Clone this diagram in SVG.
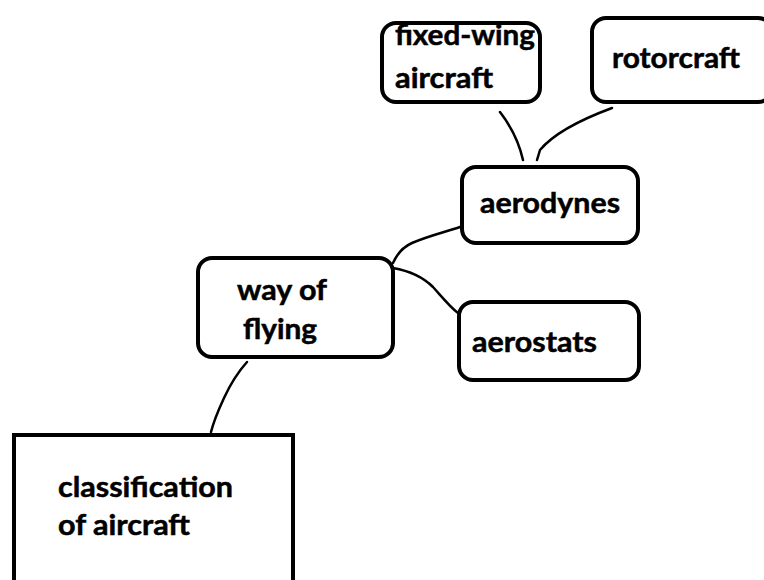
<svg xmlns="http://www.w3.org/2000/svg" width="764" height="580" viewBox="0 0 764 580">
<style>
.box{fill:#fff;stroke:#000;stroke-width:4}
.lnk{fill:none;stroke:#000;stroke-width:2.5;stroke-linecap:round;stroke-linejoin:round}
text{font-family:Lato,"Open Sans","Liberation Sans",sans-serif;font-weight:bold;font-size:28px;fill:#000;stroke:#000;stroke-width:0.5}
</style>
<rect width="764" height="580" fill="#fff"/>
<g id="connectors">
<path class="lnk" d="M500,112 C510,125 519,142 523,160"/>
<path class="lnk" d="M612,108 C585,118 555,132 540,150 L537,160"/>
<path class="lnk" d="M393,263 C397,254 403,247 412,243 C428,236 445,232 460,227"/>
<path class="lnk" d="M393,268 C410,271 423,277 433,287 C442,297 450,307 458,313"/>
<path class="lnk" d="M247,362 C238,372 230,385 224,398 C218,411 214,420 211,432"/>
</g>
<g id="classification">
<rect class="box" x="14" y="435" width="279" height="160"/>
<text x="58" y="497" textLength="175" lengthAdjust="spacingAndGlyphs">classification</text>
<text x="58" y="535" textLength="132" lengthAdjust="spacingAndGlyphs">of aircraft</text>
</g>
<g id="way-of-flying">
<rect class="box" x="198" y="258" width="195" height="99" rx="14"/>
<text x="237" y="300" textLength="90" lengthAdjust="spacingAndGlyphs">way of</text>
<text x="243" y="339" textLength="74" lengthAdjust="spacingAndGlyphs">flying</text>
</g>
<g id="aerodynes">
<rect class="box" x="462" y="167" width="176" height="76" rx="14"/>
<text x="480" y="213" textLength="140" lengthAdjust="spacingAndGlyphs">aerodynes</text>
</g>
<g id="aerostats">
<rect class="box" x="459" y="302" width="180" height="78" rx="14"/>
<text x="472" y="352" textLength="125" lengthAdjust="spacingAndGlyphs">aerostats</text>
</g>
<g id="fixed-wing">
<rect class="box" x="382" y="23" width="158" height="79" rx="14"/>
<text x="395" y="45" textLength="140" lengthAdjust="spacingAndGlyphs">fixed-wing</text>
<text x="395" y="88" textLength="98" lengthAdjust="spacingAndGlyphs">aircraft</text>
</g>
<g id="rotorcraft">
<rect class="box" x="592" y="18" width="180" height="84" rx="14"/>
<text x="612" y="68" textLength="128" lengthAdjust="spacingAndGlyphs">rotorcraft</text>
</g>
</svg>
